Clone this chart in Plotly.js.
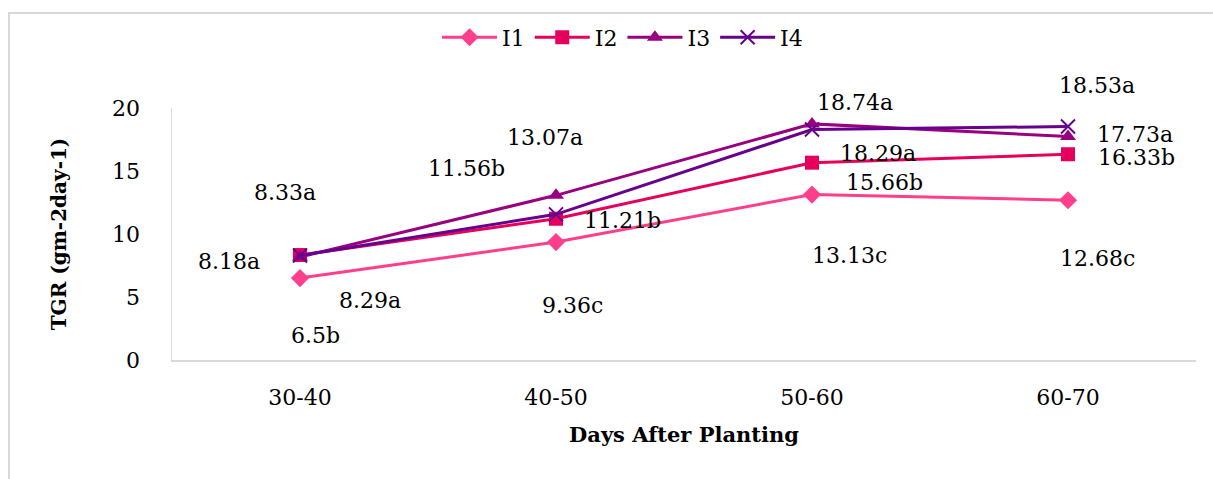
<!DOCTYPE html>
<html>
<head>
<meta charset="utf-8">
<script src="https://cdn.plot.ly/plotly-3.0.1.min.js"></script>
<style>html,body{margin:0;padding:0;background:#fff;}#chart{width:1213px;height:479px;}</style>
</head>
<body>
<div id="chart"></div>
<script>
var categories = ["30-40", "40-50", "50-60", "60-70"];
var seriesNames = ["I1", "I2", "I3", "I4"];
var I1 = [6.5, 9.36, 13.13, 12.68];
var I2 = [8.33, 11.21, 15.66, 16.33];
var I3 = [8.18, 13.07, 18.74, 17.73];
var I4 = [8.29, 11.56, 18.29, 18.53];
var I1Labels = ["6.5b", "9.36c", "13.13c", "12.68c"];
var I2Labels = ["8.33a", "11.21b", "15.66b", "16.33b"];
var I3Labels = ["8.18a", "13.07a", "18.74a", "17.73a"];
var I4Labels = ["8.29a", "11.56b", "18.29a", "18.53a"];

// label offsets in pixels (style, not data)
var offsets = {
  I1: [[15,-57],[16,-63],[37,-61],[29,-58]],
  I2: [[-15,63],[66,-2],[72,-20],[68,-3]],
  I3: [[-71,-5],[-11,58],[43,21],[67,2]],
  I4: [[70,-45],[-90,46],[66,-24],[29,41]]
};

var colors = ["#FF3F8C", "#E6005C", "#990080", "#68008E"];
var symbols = ["diamond", "square", "triangle-up", "x-thin"];
var sizes = [14, 14, 14, 14];
var allVals = [I1, I2, I3, I4];
var allLabels = [I1Labels, I2Labels, I3Labels, I4Labels];
var font = "DejaVu Serif, serif";

var traces = allVals.map(function(v, i) {
  return {
    x: categories, y: v, name: seriesNames[i], type: "scatter", mode: "lines+markers",
    line: {color: colors[i], width: 3},
    marker: {symbol: symbols[i], size: sizes[i], color: colors[i],
             line: {color: colors[i], width: i === 3 ? 2 : 0}}
  };
});

var annotations = [];
allVals.forEach(function(v, i) {
  var off = offsets[seriesNames[i]];
  v.forEach(function(val, j) {
    annotations.push({
      x: categories[j], y: val, xref: "x", yref: "y",
      text: allLabels[i][j], showarrow: false,
      xshift: off[j][0], yshift: off[j][1],
      font: {family: font, size: 22, color: "#000"}
    });
  });
});

var layout = {
  width: 1213, height: 479,
  margin: {l: 172, r: 17, t: 108, b: 119},
  paper_bgcolor: "#fff", plot_bgcolor: "#fff",
  font: {family: font, size: 22, color: "#000"},
  showlegend: true,
  legend: {orientation: "h", x: 0.44, xanchor: "center", y: 1.28, yanchor: "middle",
           font: {family: font, size: 22, color: "#000"}, itemwidth: 55, tracegroupgap: 0},
  xaxis: {type: "category", showgrid: false, zeroline: false, showline: true,
          linecolor: "#D9D9D9", linewidth: 1.5, ticks: "", ticklen: 0, ticklabelstandoff: 17,
          tickfont: {family: font, size: 22}, range: [-0.5, 3.5],
          title: {text: "<b>Days After Planting</b>", font: {family: font, size: 21}, standoff: 18}},
  yaxis: {range: [0, 20], dtick: 5, showgrid: false, zeroline: false, showline: true,
          linecolor: "#D9D9D9", linewidth: 1.5, ticks: "", ticklabelstandoff: 26,
          tickfont: {family: font, size: 22},
          title: {text: "<b>TGR (gm-2day-1)</b>", font: {family: font, size: 20}, standoff: 40}},
  annotations: annotations,
  shapes: [{type: "rect", xref: "paper", yref: "paper",
            x0: (9 - 172) / 1024, x1: 1.05, y0: -0.6, y1: (360 - 13) / 252,
            line: {color: "#D9D9D9", width: 2}, fillcolor: "rgba(0,0,0,0)", layer: "below"}]
};

Plotly.newPlot("chart", traces, layout, {displayModeBar: false, staticPlot: true});
</script>
</body>
</html>
